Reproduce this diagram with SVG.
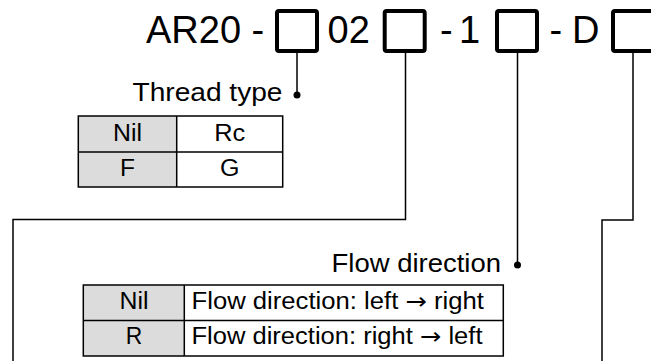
<svg xmlns="http://www.w3.org/2000/svg" width="651" height="361" viewBox="0 0 651 361">
  <style>
    text { font-family: "Liberation Sans", Arial, sans-serif; fill: #000; }
    .code { font-size: 38px; }
    .label { font-size: 25.5px; }
    .cell { font-size: 23px; }
    .mid { text-anchor: middle; }
    .arr { font-family: "DejaVu Sans", sans-serif; }
    .box { fill: #fff; stroke: #000; stroke-width: 4; }
    .wire { fill: none; stroke: #000; stroke-width: 1.5; }
    .grid { fill: none; stroke: #000; stroke-width: 1.5; }
    .shade { fill: #dcdcdc; }
    .dot { fill: #000; }
  </style>
  <rect width="651" height="361" fill="#fff"/>

  <g id="connectors">
    <path class="wire" d="M297,53 V95"/>
    <path class="wire" d="M405.5,53 V219.5 H13 V361"/>
    <path class="wire" d="M517.5,53 V265"/>
    <path class="wire" d="M633,53 V220 H602 V361"/>
    <circle class="dot" cx="297" cy="95" r="3.5"/>
    <circle class="dot" cx="517.5" cy="265" r="3.5"/>
  </g>

  <g id="model-code">
    <text class="code" x="146" y="43">AR20 -</text>
    <text class="code" x="327.5" y="43">02</text>
    <text class="code" x="440" y="43">-</text>
    <text class="code" x="459" y="43">1</text>
    <text class="code" x="549.5" y="43">-</text>
    <text class="code" x="572" y="43">D</text>
  </g>

  <g id="box-thread"><rect class="box" x="277" y="11" width="40" height="40" rx="2"/></g>
  <g id="box-02"><rect class="box" x="384.7" y="11" width="40" height="40" rx="2"/></g>
  <g id="box-flow"><rect class="box" x="497" y="11" width="40" height="40" rx="2"/></g>
  <g id="box-d"><rect class="box" x="613" y="11" width="40" height="40" rx="2"/></g>

  <g id="thread-type">
    <text class="label" x="132.5" y="101.3" textLength="150" lengthAdjust="spacingAndGlyphs">Thread type</text>
    <rect class="shade" x="78.3" y="116" width="98.4" height="71"/>
    <rect class="grid" x="78.3" y="116" width="204.4" height="71"/>
    <path class="grid" d="M176.7,116 V187 M78.3,152 H282.7"/>
    <text class="cell mid" x="127.5" y="141" textLength="29" lengthAdjust="spacingAndGlyphs">Nil</text>
    <text class="cell mid" x="229.7" y="141" textLength="31" lengthAdjust="spacingAndGlyphs">Rc</text>
    <text class="cell mid" x="127.5" y="176.3" textLength="15" lengthAdjust="spacingAndGlyphs">F</text>
    <text class="cell mid" x="229.7" y="176.3" textLength="19.5" lengthAdjust="spacingAndGlyphs">G</text>
  </g>

  <g id="flow-direction">
    <text class="label" x="331.5" y="271.7" textLength="169.5" lengthAdjust="spacingAndGlyphs">Flow direction</text>
    <rect class="shade" x="83.3" y="285" width="101" height="71"/>
    <rect class="grid" x="83.3" y="285" width="420" height="71"/>
    <path class="grid" d="M184.3,285 V356 M83.3,320.5 H503.3"/>
    <text class="cell mid" x="134" y="308.6" textLength="29" lengthAdjust="spacingAndGlyphs">Nil</text>
    <text class="cell mid" x="134" y="343.8" textLength="16.5" lengthAdjust="spacingAndGlyphs">R</text>
    <text class="cell" x="191.5" y="308.6" textLength="292.5" lengthAdjust="spacingAndGlyphs">Flow direction: left <tspan class="arr">→</tspan> right</text>
    <text class="cell" x="191.5" y="343.8" textLength="291" lengthAdjust="spacingAndGlyphs">Flow direction: right <tspan class="arr">→</tspan> left</text>
  </g>
</svg>
